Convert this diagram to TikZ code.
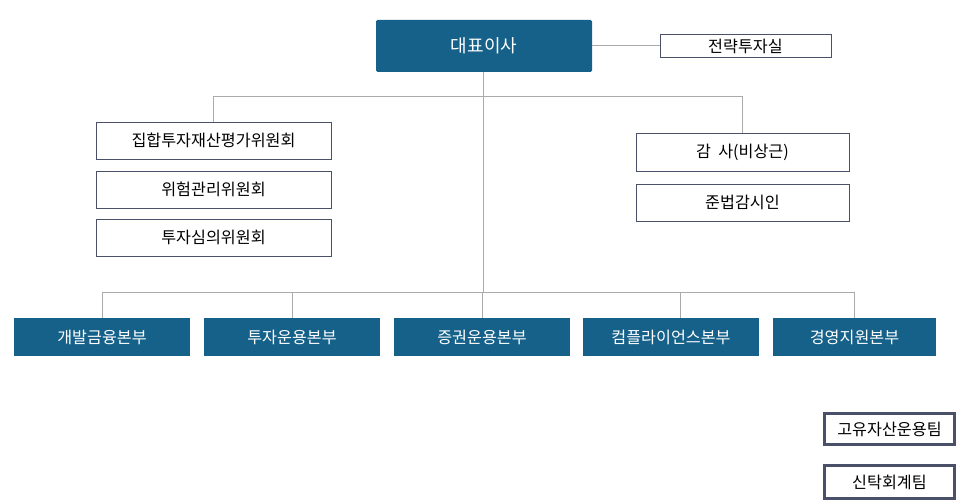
\documentclass[tikz,border=0pt]{standalone}
\usepackage{fontspec}
\setmainfont{Noto Sans CJK KR}
\definecolor{deptblue}{HTML}{156189}
\definecolor{boxline}{HTML}{4A5068}
\definecolor{linkgray}{HTML}{AAAAAA}
\begin{document}
\begin{tikzpicture}
  [x=1pt,y=-1pt,
   every node/.style={inner sep=0pt,font=\fontsize{16.2}{18}\selectfont},
   head/.style={fill=deptblue,text=white,rounded corners=1.5pt},
   dept/.style={fill=deptblue,text=white,minimum width=176pt,minimum height=38pt},
   panel/.style={draw=boxline,line width=0.8pt,fill=white},
   team/.style={draw=boxline,line width=3pt,fill=white,minimum width=130pt,minimum height=31pt},
   link/.style={draw=linkgray,line width=1pt}]
  \useasboundingbox (0,0) rectangle (972,502);
  \node[head,minimum width=216pt,minimum height=52pt,font=\fontsize{18}{20}\selectfont] (ceo) at (484,46) {대표이사};
  \node[panel,minimum width=171pt,minimum height=23pt] (strat) at (745.5,46) {전략투자실};

  \node[panel,minimum width=235pt,minimum height=37pt] (com1) at (213.5,140.5) {집합투자재산평가위원회};
  \node[panel,minimum width=235pt,minimum height=37pt] (com2) at (213.5,189.5) {위험관리위원회};
  \node[panel,minimum width=235pt,minimum height=37pt] (com3) at (213.5,237.5) {투자심의위원회};

  \node[panel,minimum width=213pt,minimum height=38pt] (aud) at (742.5,152) {감\ \ 사(비상근)};
  \node[panel,minimum width=213pt,minimum height=37pt] (comp) at (742.5,202.5) {준법감시인};

  \node[dept] (d1) at (102,337) {개발금융본부};
  \node[dept] (d2) at (292,337.5) {투자운용본부};
  \node[dept] (d3) at (482,337) {증권운용본부};
  \node[dept] (d4) at (671,337) {컴플라이언스본부};
  \node[dept,minimum width=163pt] (d5) at (854.5,337) {경영지원본부};

  \node[team] (t1) at (889.5,429) {고유자산운용팀};
  \node[team,minimum height=33pt] (t2) at (889.5,482) {신탁회계팀};

  \coordinate (upper) at (483,97);
  \coordinate (lower) at (483,293);
  \coordinate (d4top) at (680,318);

  \draw[link] (ceo) -- (strat);
  \draw[link] (ceo.south -| lower) -- (lower);
  \foreach \to in {com1,aud}
    \draw[link] (upper) -| (\to);
  \foreach \to in {d1,d2,d3,d5}
    \draw[link] (lower) -| (\to);
  \draw[link] (lower) -| (d4top);
\end{tikzpicture}
\end{document}
